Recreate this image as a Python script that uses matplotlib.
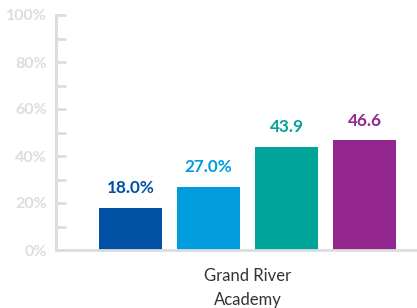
import matplotlib.pyplot as plt
from matplotlib.ticker import MultipleLocator, FuncFormatter

category = "Grand River\nAcademy"
values = [18.0, 27.0, 43.9, 46.6]
labels = ["18.0%", "27.0%", "43.9", "46.6"]
colors = ["#0050A4", "#009CDE", "#00A499", "#93278F"]

plt.rcParams['font.family'] = ['Lato', 'DejaVu Sans']

fig = plt.figure(figsize=(4.17, 3.08), dpi=100)
ax = fig.add_axes([56 / 417, 58 / 308, 1 - 56 / 417, 235 / 308])

x = range(len(values))
ax.bar(x, values, width=63 / 78, color=colors, zorder=2)

for xi, v, lab, c in zip(x, values, labels, colors):
    ax.text(xi, v + 5.0, lab, ha="center", va="bottom", color=c,
            fontsize=12.3, fontweight="bold")

ax.set_xlim(-0.955, 3.673)
ax.set_ylim(0, 100)

ax.yaxis.set_major_locator(MultipleLocator(20))
ax.yaxis.set_minor_locator(MultipleLocator(10))
ax.yaxis.set_major_formatter(FuncFormatter(lambda v, p: f"{v:.0f}%"))
ax.tick_params(axis="y", which="both", direction="in", length=7.5, width=2,
               color="#DDDDDD", pad=6.5)
ax.tick_params(axis="y", which="major", labelsize=11.5, labelcolor="#DDDDDD")
for t in ax.get_yticklabels():
    t.set_fontweight("bold")

ax.set_xticks([1.5])
ax.set_xticklabels([category], fontsize=12, color="#333333", linespacing=1.6)
ax.tick_params(axis="x", length=0, pad=13)

for s in ["top", "right"]:
    ax.spines[s].set_visible(False)
ax.spines["left"].set_color("#DDDDDD")
ax.spines["left"].set_linewidth(2.2)
ax.spines["bottom"].set_color("#DDDDDD")
ax.spines["bottom"].set_linewidth(2)

fig.savefig("out.png", dpi=100)
